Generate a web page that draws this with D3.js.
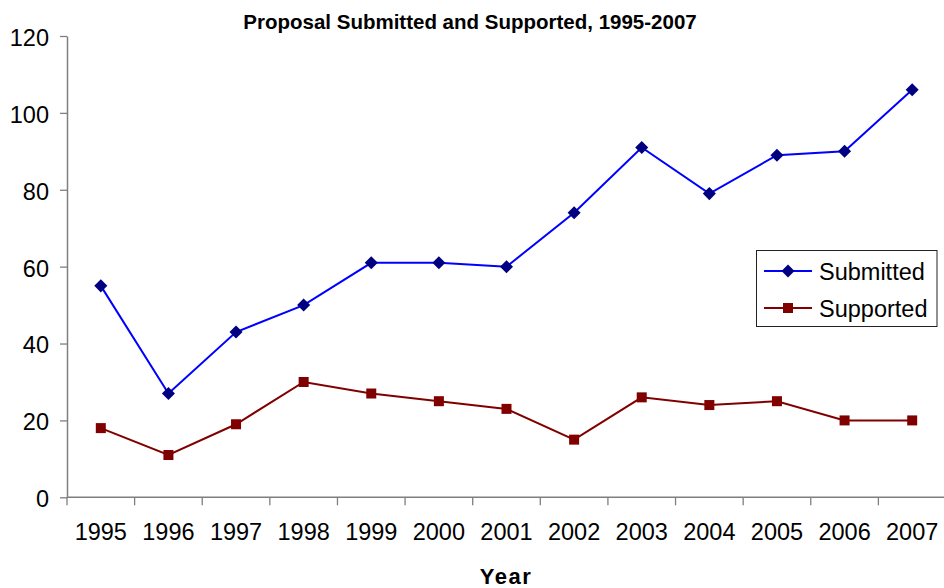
<!DOCTYPE html>
<html>
<head>
<meta charset="utf-8">
<script src="https://cdn.jsdelivr.net/npm/d3@7"></script>
<style>
  html, body { margin: 0; padding: 0; background: #fff; }
  svg { display: block; font-family: "Liberation Sans", Arial, sans-serif; }
</style>
</head>
<body>
<svg id="chart" width="944" height="588"></svg>
<script>
// Proposal counts per year
const years = ["1995","1996","1997","1998","1999","2000","2001","2002","2003","2004","2005","2006","2007"];
const submitted = [55, 27, 43, 50, 61, 61, 60, 74, 91, 79, 89, 90, 106];
const supported = [18, 11, 19, 30, 27, 25, 23, 15, 26, 24, 25, 20, 20];
const yTicks = [0, 20, 40, 60, 80, 100, 120];
const seriesNames = ["Submitted", "Supported"];

const svg = d3.select("#chart");
const plotLeft = 67, plotTop = 36, plotBottom = 497.3, plotRight = 946;
const labelSize = 23.5;

const x = d3.scaleBand().domain(years).range([plotLeft, plotRight]).paddingInner(0).paddingOuter(0);
const y = d3.scaleLinear().domain([0, 120]).range([plotBottom, plotTop]);

const axisColor = "#7f7f7f";

// y axis
const yAxis = svg.append("g")
  .attr("transform", `translate(${plotLeft},0)`)
  .call(d3.axisLeft(y).tickValues(yTicks).tickSize(7).tickSizeOuter(0).tickPadding(11));
yAxis.select(".domain").attr("stroke", axisColor).attr("stroke-width", 1.5);
yAxis.selectAll(".tick line").attr("stroke", axisColor).attr("stroke-width", 1.3);
yAxis.selectAll(".tick text").attr("font-size", labelSize).attr("fill", "#000")
  .attr("font-family", "Liberation Sans, Arial, sans-serif").attr("dy", "0.4em");

// x axis: ticks sit on category boundaries
const xAxisG = svg.append("g").attr("transform", `translate(0,${plotBottom})`);
xAxisG.append("line").attr("x1", plotLeft).attr("x2", plotRight).attr("y1", 0).attr("y2", 0)
  .attr("stroke", axisColor).attr("stroke-width", 1.5);
xAxisG.selectAll("line.tk").data(years).join("line").attr("class", "tk")
  .attr("x1", d => x(d)).attr("x2", d => x(d)).attr("y1", 0).attr("y2", 8)
  .attr("stroke", axisColor).attr("stroke-width", 1.3);
xAxisG.selectAll("text").data(years).join("text")
  .attr("x", d => x(d) + x.bandwidth() / 2).attr("y", 43)
  .attr("text-anchor", "middle").attr("font-size", labelSize).attr("fill", "#000")
  .text(d => d);

const cx = d => x(d) + x.bandwidth() / 2;
const line = d3.line().x((d, i) => cx(years[i])).y(d => y(d));

// Submitted series
svg.append("path").datum(submitted).attr("d", line)
  .attr("fill", "none").attr("stroke", "#0000ff").attr("stroke-width", 2);
svg.selectAll("path.dia").data(submitted).join("path").attr("class", "dia")
  .attr("d", d3.symbol(d3.symbolSquare, 85)())
  .attr("transform", (d, i) => `translate(${cx(years[i])},${y(d)}) rotate(45)`)
  .attr("fill", "#000080");

// Supported series
svg.append("path").datum(supported).attr("d", line)
  .attr("fill", "none").attr("stroke", "#800000").attr("stroke-width", 2);
svg.selectAll("rect.sq").data(supported).join("rect").attr("class", "sq")
  .attr("x", (d, i) => cx(years[i]) - 5).attr("y", d => y(d) - 5)
  .attr("width", 10).attr("height", 10).attr("fill", "#800000");

// Title
svg.append("text").attr("x", 470).attr("y", 29).attr("text-anchor", "middle")
  .attr("font-size", 20.5).attr("font-weight", "bold").attr("fill", "#000")
  .text("Proposal Submitted and Supported, 1995-2007");

// Axis title
svg.append("text").attr("x", 506).attr("y", 584).attr("text-anchor", "middle")
  .attr("font-size", 22).attr("font-weight", "bold").attr("letter-spacing", 1.5).attr("fill", "#000")
  .text("Year");

// Legend
const lg = svg.append("g");
lg.append("rect").attr("x", 756.5).attr("y", 250.5).attr("width", 180.5).attr("height", 76)
  .attr("fill", "#fff").attr("stroke", "#222").attr("stroke-width", 1);
const lgY = [271, 308];
const lgLine = ["#0000ff", "#800000"];
seriesNames.forEach((name, i) => {
  lg.append("line").attr("x1", 764).attr("x2", 812).attr("y1", lgY[i]).attr("y2", lgY[i])
    .attr("stroke", lgLine[i]).attr("stroke-width", 2);
  if (i === 0) {
    lg.append("path").attr("d", d3.symbol(d3.symbolSquare, 85)())
      .attr("transform", `translate(788,${lgY[i]}) rotate(45)`).attr("fill", "#000080");
  } else {
    lg.append("rect").attr("x", 783).attr("y", lgY[i] - 5).attr("width", 10).attr("height", 10)
      .attr("fill", "#800000");
  }
  lg.append("text").attr("x", 819).attr("y", lgY[i]).attr("dy", "0.37em")
    .attr("font-size", labelSize).attr("fill", "#000").text(name);
});
</script>
</body>
</html>
